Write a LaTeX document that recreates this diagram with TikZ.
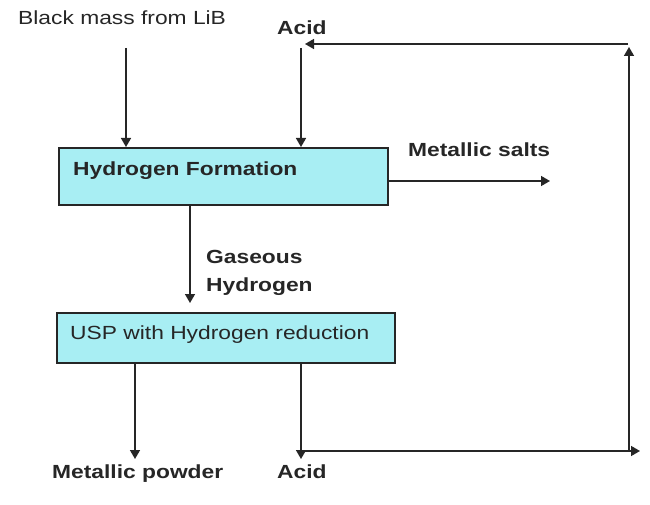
\documentclass[tikz,border=0pt]{standalone}
\usepackage{fontspec}
\newfontfamily\wf[FakeStretch=1.2]{Liberation Sans}
\usetikzlibrary{arrows.meta}
\definecolor{boxfill}{HTML}{A8EEF3}
\definecolor{ink}{HTML}{262626}
\tikzset{
  txt/.style={anchor=base west, inner sep=0pt, text=ink, font=\wf\fontsize{19}{22}\selectfont},
  btxt/.style={txt, font=\wf\bfseries\fontsize{19}{22}\selectfont},
  box/.style={draw=ink, line width=1.6pt, fill=boxfill, anchor=north west, inner sep=0pt},
  arr/.style={draw=ink, line width=1.5pt, -{Triangle[length=9pt,width=10pt]}}
}
\begin{document}
\begin{tikzpicture}[x=1pt,y=1pt]
\useasboundingbox (0,0) rectangle (650,-505);
% boxes
\node[box, minimum width=329pt, minimum height=57pt] (hf) at (58,-147) {};
\node[box, minimum width=338pt, minimum height=50pt] (usp) at (56,-312) {};
% texts
\node[btxt] (hft) at (73,-176) {Hydrogen Formation};
\node[txt] (uspt) at (70,-339) {USP with Hydrogen reduction};
\node[txt] (bm) at (18,-25) {Black mass from LiB};
\node[btxt] (acidT) at (277,-34.5) {Acid};
\node[btxt] (ms) at (408,-157) {Metallic salts};
\node[btxt] (gas) at (206,-263) {Gaseous};
\node[btxt] (gash) at (206,-291) {Hydrogen};
\node[btxt] (mp) at (52,-478) {Metallic powder};
\node[btxt] (acidB) at (277,-478) {Acid};
% coordinates
\coordinate (bmS) at (126,-48);
\coordinate (acS) at (301,-48);
\coordinate (msE) at (550,-181);
\coordinate (gasS) at (190,-204);
\coordinate (gasE) at (190,-303);
\coordinate (mpS) at (135,-362);
\coordinate (mpE) at (135,-459);
\coordinate (acB) at (301,-459);
\coordinate (loopBL) at (301,-451);
\coordinate (loopBR) at (640,-451);
\coordinate (loopRB) at (629,-451);
\coordinate (loopRT) at (629,-47);
\coordinate (loopTR) at (628,-44);
\coordinate (loopTL) at (305,-44);
% connectors
\draw[arr] (bmS) -- (bmS |- hf.north);
\draw[arr] (acS) -- (acS |- hf.north);
\draw[arr] (hf.east |- msE) -- (msE);
\draw[arr] (gasS) -- (gasE);
\draw[arr] (mpS |- usp.south) -- (mpE);
\draw[arr] (acB |- usp.south) -- (acB);
\draw[arr] (loopBL) -- (loopBR);
\draw[arr] (loopRB) -- (loopRT);
\draw[arr] (loopTR) -- (loopTL);
\end{tikzpicture}
\end{document}
